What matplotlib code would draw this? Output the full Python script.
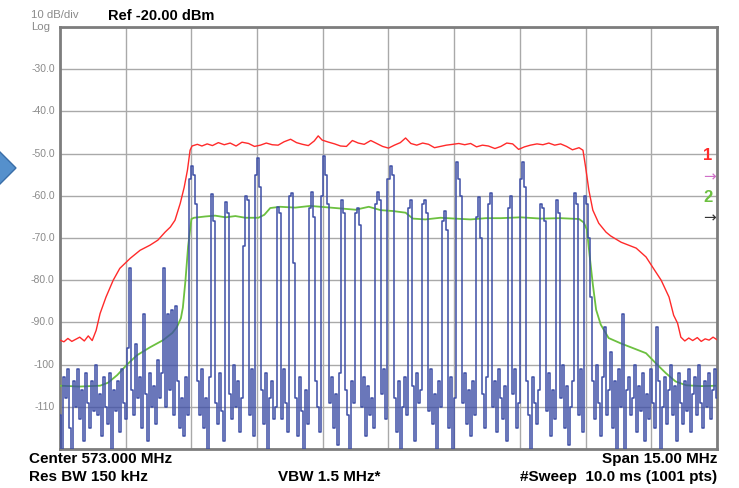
import numpy as np
import matplotlib
matplotlib.use("Agg")
import matplotlib.pyplot as plt
from matplotlib.patches import Polygon

# analyzer settings
center_mhz = 573.0
span_mhz = 15.0
ref_dbm = -20.0
n_pts = 1001

# trace 1 (max hold, red): sweep point index -> dBm
red_idx = [0, 6, 12, 18, 24, 30, 37, 43, 49, 55, 61, 70, 81, 91, 107, 122, 137, 149, 160, 168,
           175, 183, 189, 194, 198, 201, 209, 216, 224, 232, 241, 250, 259, 268, 277, 287, 296,
           305, 314, 323, 332, 341, 351, 360, 369, 378, 387, 393, 399, 409, 418, 427, 436, 445,
           454, 463, 473, 482, 491, 500, 509, 518, 526, 534, 543, 552, 561, 570, 579, 588, 598,
           607, 616, 625, 634, 643, 652, 662, 671, 680, 689, 698, 707, 716, 726, 735, 744, 753,
           762, 771, 780, 790, 796, 800, 805, 811, 820, 831, 838, 854, 877, 892, 902, 915, 927,
           934, 940, 945, 951, 957, 963, 970, 976, 982, 988, 994, 1000]
red_db = [-94.2, -94.6, -93.8, -94.5, -94.0, -93.5, -94.4, -93.2, -94.3, -91.9, -87.9, -84.0,
          -80.0, -77.2, -74.8, -72.9, -71.7, -70.5, -68.6, -67.4, -65.8, -61.8, -58.0, -53.9,
          -49.2, -48.2, -47.8, -48.2, -47.7, -48.1, -47.4, -47.9, -47.5, -48.2, -47.3, -47.6,
          -48.3, -48.0, -47.5, -47.9, -48.0, -47.2, -46.6, -47.4, -47.8, -48.1, -47.0, -45.8,
          -46.8, -47.3, -47.7, -48.2, -48.3, -46.9, -47.5, -47.8, -46.9, -47.6, -48.3, -48.7,
          -48.0, -47.4, -46.3, -47.6, -48.0, -47.5, -47.8, -48.6, -48.3, -48.0, -47.8, -47.6,
          -47.9, -47.6, -48.4, -48.0, -48.2, -48.8, -48.3, -47.5, -47.7, -49.0, -48.4, -48.0,
          -47.7, -47.9, -47.5, -48.0, -47.7, -48.3, -49.1, -48.6, -49.2, -53.2, -58.7, -63.4,
          -66.5, -68.6, -69.5, -71.0, -72.4, -74.5, -76.9, -80.0, -84.0, -88.3, -90.2, -93.5,
          -94.4, -93.7, -94.3, -93.6, -94.5, -93.9, -94.2, -93.5, -94.1]

# trace 2 (average, green)
green_idx = [0, 30, 61, 73, 87, 102, 117, 137, 157, 171, 178, 184, 187, 191, 195, 200, 204, 221,
             236, 252, 267, 282, 302, 311, 320, 335, 358, 381, 404, 427, 450, 470, 488, 506, 526,
             537, 556, 579, 601, 625, 648, 671, 701, 732, 762, 790, 797, 802, 806, 811, 816, 823,
             835, 854, 869, 892, 907, 922, 937, 953, 976, 1000]
green_db = [-105.0, -105.2, -105.0, -104.3, -102.5, -100.0, -97.8, -95.9, -94.2, -92.5, -91.1,
            -89.0, -86.5, -80.0, -72.0, -65.5, -65.2, -64.9, -64.7, -65.1, -64.8, -65.2, -65.2,
            -64.5, -62.9, -62.6, -62.8, -62.4, -62.7, -63.0, -63.3, -62.6, -63.4, -63.6, -64.0,
            -65.4, -65.6, -65.2, -65.4, -65.6, -65.3, -65.3, -65.1, -65.4, -65.3, -65.5, -66.3,
            -68.0, -74.0, -81.0, -87.0, -90.5, -93.7, -95.0, -95.9, -97.3, -99.7, -102.0,
            -104.0, -104.9, -105.1, -105.0]

# clear/write trace (blue), evenly spaced across the span
blue_db = [
    # below the channel
    -112, -123, -103, -108, -101, -115, -123, -104, -110, -101, -113, -106, -118, -102, -109,
    -115, -104, -111, -100, -112, -107, -117, -103, -110, -114, -102, -123, -106, -111, -104,
    -116, -101, -109, -113, -96, -77, -106, -112, -95, -108, -103, -115, -88, -107, -118,
    -102, -110, -105, -114, -99, -108, -102, -77, -110, -88, -106, -87, -112, -86, -104,
    -115, -108, -117, -103, -112,
    # in channel
    -56, -53, -55, -62, -104, -112, -101, -115, -108, -123, -103, -59.5, -66, -109, -114,
    -102, -111, -118, -61.5, -64, -107, -113, -100, -110, -104, -116, -108, -72, -60, -61,
    -112, -101, -117, -55, -51, -58, -106, -114, -102, -123, -108, -104, -113, -110, -62.7,
    -64, -113, -101, -109, -116, -60, -59.4, -76, -108, -117, -103, -111, -123, -106, -114,
    -63, -59, -65, -104, -110, -116, -60, -50.5, -55, -62, -109, -103, -115, -107, -119,
    -102, -61, -64, -106, -112, -123, -104, -109, -64, -63, -67, -110, -103, -117, -105,
    -112, -108, -115, -62, -59, -61, -107, -101, -113, -56, -53, -55, -108, -116, -104,
    -123, -110, -103, -112, -63, -61, -105, -118, -102, -109, -106, -62, -61, -64, -111,
    -101, -114, -107, -123, -104, -110, -66, -63.5, -68, -115, -103, -123, -108, -52, -56,
    -60, -109, -102, -114, -106, -117, -104, -112, -65, -60.3, -70, -107, -115, -103, -62,
    -59.4, -110, -104, -116, -101, -108, -113, -105, -118, -63, -60, -107, -101, -115, -109,
    -56, -52, -58, -104, -112, -123, -103, -109, -114, -106, -62, -63, -66, -111, -102,
    -117, -106, -113, -61, -64, -108, -100, -115, -105, -119, -110, -104, -59.4, -62, -112,
    -101, -116, -60, -62, -70, -84,
    # above the channel
    -104, -113, -100, -109, -117, -103, -91, -112, -106, -97, -115, -104, -123, -101, -110,
    -88, -123, -106, -103, -112, -108, -100, -116, -105, -111, -102, -118, -107, -113, -101,
    -109, -115, -91, -104, -123, -110, -103, -114, -106, -100, -112, -105, -118, -102, -109,
    -114, -104, -111, -101, -116, -107, -103, -112, -100, -109, -115, -104, -110, -102, -113,
    -106, -101, -108,
]

y_ticks = [-30, -40, -50, -60, -70, -80, -90, -100, -110]
y_labels = ["-30.0", "-40.0", "-50.0", "-60.0", "-70.0", "-80.0", "-90.0", "-100", "-110"]

f_start = center_mhz - span_mhz / 2
f_stop = center_mhz + span_mhz / 2
red_f = f_start + np.array(red_idx) * span_mhz / (n_pts - 1)
green_f = f_start + np.array(green_idx) * span_mhz / (n_pts - 1)
blue_f = np.linspace(f_start, f_stop, len(blue_db))

W, H = 739, 488
fig = plt.figure(figsize=(W / 100, H / 100), dpi=100)
fig.patch.set_facecolor("white")
ax = fig.add_axes([60 / W, 1 - 449 / H, 657 / W, 422 / H])

ax.plot(red_f, red_db, color="#ff2a2a", lw=1.0, zorder=3)
ax.plot(green_f, green_db, color="#6cc040", lw=1.3, zorder=3)
ax.plot(blue_f, blue_db, color="#3d4ea6", lw=1.1, zorder=4, drawstyle="steps-mid")

ax.set_xlim(f_start, f_stop)
ax.set_ylim(ref_dbm - 100, ref_dbm)
ax.set_xticks(np.arange(f_start, f_stop + 0.01, span_mhz / 10))
ax.set_yticks(np.arange(ref_dbm - 100, ref_dbm + 1, 10))
ax.grid(True, color="#a9a9a9", lw=1.0, zorder=1)
ax.tick_params(length=0, labelbottom=False, labelleft=False)
for s in ax.spines.values():
    s.set_color("#7d7d7d")
    s.set_linewidth(2.0)

for v, lab in zip(y_ticks, y_labels):
    ax.text(-0.008, (v - (ref_dbm - 100)) / 100, lab, transform=ax.transAxes,
            ha="right", va="center", fontsize=7.5, color="#8a8a8a", family="Liberation Sans")

tf = fig.transFigure
def fx(px):
    return px / W
def fy(py):
    return 1 - py / H

fig.text(fx(31), fy(14.5), "10 dB/div", fontsize=8.2, color="#8a8a8a", va="center",
         family="Liberation Sans")
fig.text(fx(31), fy(27.5), "Log", fontsize=8.2, color="#8a8a8a", va="center",
         family="Liberation Sans")
fig.text(fx(108), fy(16), "Ref -20.00 dBm", fontsize=10.5, fontweight="bold", va="center",
         family="Liberation Sans")

bfont = dict(fontsize=11, fontweight="bold", va="center",
             family=["Liberation Sans Narrow", "Liberation Sans"])
fig.text(fx(29), fy(459), "Center 573.000 MHz", ha="left", **bfont)
fig.text(fx(717), fy(459), "Span 15.00 MHz", ha="right", **bfont)
fig.text(fx(29), fy(477), "Res BW 150 kHz", ha="left", **bfont)
fig.text(fx(278), fy(477), "VBW 1.5 MHz*", ha="left", **bfont)
fig.text(fx(717), fy(477), "#Sweep  10.0 ms (1001 pts)", ha="right", **bfont)

# trace markers at the right edge
fig.text(fx(708), fy(156), "1", color="#ff2a2a", fontsize=12, fontweight="bold",
         ha="center", va="center", family="Liberation Sans")
fig.text(fx(708), fy(197), "2", color="#6cc040", fontsize=12, fontweight="bold",
         ha="center", va="center", family="Liberation Sans")
fig.text(fx(716), fy(177), "\u2192", color="#d070c8", fontsize=11, ha="right", va="center")
fig.text(fx(716), fy(218), "\u2192", color="#333333", fontsize=11, ha="right", va="center")

# slide arrow on the left
arrow = Polygon([(fx(16), fy(168)), (fx(-12), fy(140)), (fx(-40), fy(168)), (fx(-12), fy(196))],
                closed=True, transform=tf, facecolor="#5590cc", edgecolor="#3a6ea8", lw=1.0)
fig.patches.append(arrow)

fig.savefig("out.png", dpi=100)
